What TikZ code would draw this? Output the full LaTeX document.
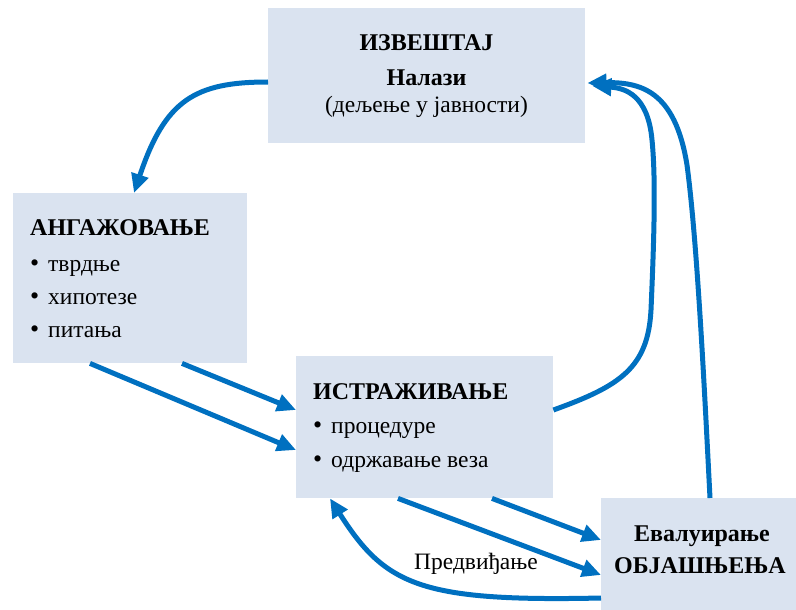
\documentclass[tikz,border=0pt]{standalone}
\usepackage{fontspec}
\setmainfont{Liberation Serif}
\usetikzlibrary{arrows.meta,calc}

\definecolor{boxfill}{HTML}{DAE3F0}
\definecolor{flow}{HTML}{0070C0}

\tikzset{
  box/.style={fill=boxfill, draw=none, inner sep=0pt, anchor=north west},
  title/.style={font=\fontsize{24}{28}\selectfont\bfseries, inner sep=0pt},
  plain/.style={font=\fontsize{23.5}{28}\selectfont, inner sep=0pt},
  flowarrow/.style={draw=flow, line width=5pt,
    -{Triangle[length=19pt,width=17pt]}},
}
\newcommand{\bul}{\makebox[18pt][l]{\fontsize{26}{28}\selectfont •}}

\begin{document}
\begin{tikzpicture}[x=1pt,y=-1pt]
  \useasboundingbox (0,0) rectangle (796,610);

  % boxes
  \node[box, minimum width=317pt, minimum height=135pt] (top) at (268,8) {};
  \node[box, minimum width=234pt, minimum height=170pt] (left) at (13,193) {};
  \node[box, minimum width=257pt, minimum height=142pt] (mid) at (296,356) {};
  \node[box, minimum width=195pt, minimum height=112pt] (br) at (601,498) {};

  % report
  \node[title, anchor=base] (top-1) at (426.5,51) {ИЗВЕШТАЈ};
  \node[title, anchor=base] (top-2) at (426.5,85) {Налази};
  \node[plain, anchor=base] (top-3) at (426.5,113) {(дељење у јавности)};

  % engagement
  \node[title, anchor=base west] (left-1) at (30,235) {АНГАЖОВАЊЕ};
  \node[plain, anchor=base west] (left-2) at (30,271) {\bul тврдње};
  \node[plain, anchor=base west] (left-3) at (30,304) {\bul хипотезе};
  \node[plain, anchor=base west] (left-4) at (30,337) {\bul питања};

  % research
  \node[title, anchor=base west] (mid-1) at (313,399) {ИСТРАЖИВАЊЕ};
  \node[plain, anchor=base west] (mid-2) at (313,433) {\bul процедуре};
  \node[plain, anchor=base west] (mid-3) at (313,467) {\bul одржавање веза};

  % evaluation
  \node[title, anchor=base] (br-1) at (702,541) {Евалуирање};
  \node[title, anchor=base] (br-2) at (700,573) {ОБЈАШЊЕЊА};

  % connectors
  \draw[flowarrow] ($(top.north west)+(0,74)$)
     .. controls (195,82) and (165,100) .. ($(left.north west)+(121,0)$);

  \draw[flowarrow] ($(left.south west)+(169,0)$) -- ($(mid.north west)+(0,54)$);
  \draw[flowarrow] ($(left.south west)+(77,0)$) -- ($(mid.north west)+(0,94)$);

  \draw[flowarrow] ($(mid.south west)+(196,0)$) -- ($(br.north west)+(0,42)$);
  \draw[flowarrow] ($(mid.south west)+(102,0)$) -- ($(br.north west)+(0,77)$);

  \draw[flowarrow] ($(br.north west)+(0,100)$)
     .. controls (420,602) and (385,585) .. ($(mid.south west)+(34,0)$);
  \node[plain, anchor=base] (predict) at (476,569) {Предвиђање};

  \draw[flowarrow] ($(mid.north east)+(0,54)$)
     .. controls (620,386) and (648,368) .. (651,310)
     .. controls (654,240) and (656,180) .. (652,140)
     .. controls (648,95) and (625,88) .. ($(top.north east)+(7,78)$);

  \draw[flowarrow] ($(br.north west)+(109,0)$)
     .. controls (704,380) and (697,240) .. (687,165)
     .. controls (675,90) and (640,82) .. ($(top.north east)+(2,75)$);
\end{tikzpicture}
\end{document}
